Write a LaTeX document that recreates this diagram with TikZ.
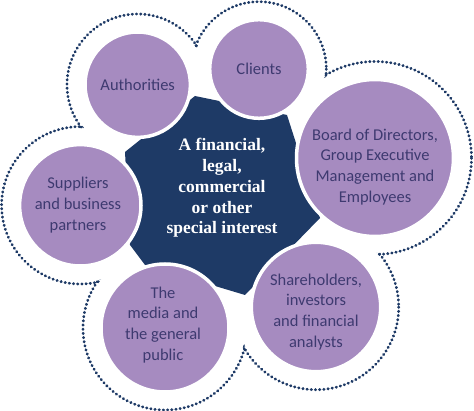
\documentclass[tikz,border=0pt]{standalone}
\usepackage{fontspec}
\setmainfont{Liberation Serif}
\newfontfamily\bubfont{Carlito}
\usepackage{xcolor}
\usepackage{tikz}
\usetikzlibrary{positioning,calc}

\definecolor{navy}{HTML}{1E3A66}
\definecolor{lilac}{HTML}{A68BC0}
\definecolor{ink}{HTML}{3E3A70}

\begin{document}
\begin{tikzpicture}[x=1pt, y=-1pt,
    bubble/.style={circle, fill=lilac, draw=white, line width=3.5pt, inner sep=0pt},
    bubtext/.style={text=ink, align=center, font=\bubfont\fontsize{16.5}{20.8}\selectfont},
    cloud/.style={navy, line width=2.9pt, line cap=round, dash pattern=on 0.4pt off 3.8pt}]
  \useasboundingbox (0,0) rectangle (474,411);
  \def\gap{19}
  % dotted outline round the bubbles
  \foreach \x/\y/\r in {137.7/84.7/51.7, 259/69/48.3, 375/158/77.5,
                        80.3/205.3/59.7, 165/328/63, 316/307/63.7}{
    \draw[cloud] (\x,\y) circle [radius={\r+\gap}];
  }
  \foreach \x/\y/\r in {137.7/84.7/51.7, 259/69/48.3, 375/158/77.5,
                        80.3/205.3/59.7, 165/328/63, 316/307/63.7}{
    \fill[white] (\x,\y) circle [radius={\r+\gap-1.9}];
  }
  % centre
  \fill[navy] (125,152) -- (195,96) -- (287,115) -- (320,218) -- (245,295)
    -- (145,265) -- (130,245) -- cycle;
  \node[text=white, align=center, font=\fontsize{17.5}{20.8}\selectfont\bfseries]
    (core) at (222,188) {A financial,\\legal,\\commercial\\or other\\special interest};
  % bubbles
  \foreach \n/\x/\y/\r in {auth/137.7/84.7/51.7, cli/259/69/48.3, board/375/158/77.5,
                           supp/80.3/205.3/59.7, media/165/328/63, share/316/307/63.7}{
    \node[bubble, minimum size={2*\r+2pt}] (\n) at (\x,\y) {};
  }
  \node[bubtext] (authT) at (137.7,84.7) {Authorities};
  \node[bubtext] (cliT) at (259,69) {Clients};
  \node[bubtext] (boardT) at (375,167) {Board of Directors,\\Group Executive\\Management and\\Employees};
  \node[bubtext] (suppT) at (78,205) {Suppliers\\and business\\partners};
  \node[bubtext] (mediaT) at (163,325) {The\\media and\\the general\\public};
  \node[bubtext] (shareT) at (316,312) {Shareholders,\\investors\\and financial\\analysts};
\end{tikzpicture}
\end{document}
